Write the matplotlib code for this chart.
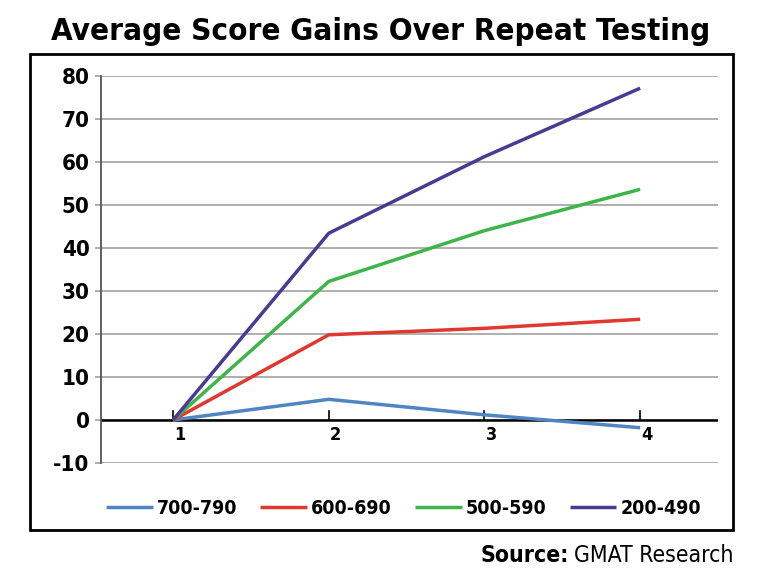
import matplotlib
matplotlib.use('Agg')
import matplotlib.pyplot as plt
from matplotlib.patches import Rectangle

# data
tests = [1, 2, 3, 4]
score_700_790 = [0, 4.8, 1.2, -1.8]
score_600_690 = [0, 19.8, 21.3, 23.4]
score_500_590 = [0, 32.2, 44.0, 53.6]
score_200_490 = [0, 43.4, 61.2, 77.1]
labels = ['700-790', '600-690', '500-590', '200-490']
colors = ['#5085c4', '#e0382e', '#3db54b', '#4a3a92']

plt.rcParams['font.family'] = ['DejaVu Sans']
plt.rcParams['axes.unicode_minus'] = False

fig = plt.figure(figsize=(7.61, 5.71), dpi=100)
ax = fig.add_axes([0.1323, 0.1891, 0.8112, 0.6783])

series = [score_700_790, score_600_690, score_500_590, score_200_490]
for vals, lab, col in zip(series, labels, colors):
    ax.plot(tests, vals, color=col, lw=2.5, label=lab, solid_capstyle='butt', zorder=3)

ax.set_xlim(0.535, 4.5)
ax.set_ylim(-10, 80)
ax.set_yticks(range(-10, 81, 10))
ax.yaxis.grid(True, color='#a8a8a8', lw=1.3)
ax.set_axisbelow(True)
ax.axhline(0, color='black', lw=1.8, zorder=2)

for s in ['top', 'right', 'bottom']:
    ax.spines[s].set_visible(False)
ax.spines['left'].set_color('#555555')
ax.spines['left'].set_linewidth(1.3)

ax.tick_params(axis='y', length=4, width=1.3, color='#a8a8a8', labelsize=16, pad=4)
ax.set_xticks([])
for t in tests:
    ax.plot([t, t], [0, 2], color='black', lw=1.2, zorder=2)
    ax.text(t + 0.045, -3.4, str(t), ha='center', va='center', fontsize=13,
            fontweight='bold', fontstretch='condensed')
for lbl in ax.get_yticklabels():
    lbl.set_fontweight('bold')
    lbl.set_fontstretch('condensed')

fig.text(0.5, 0.944, 'Average Score Gains Over Repeat Testing', ha='center', va='center',
         fontsize=22.5, fontweight='bold', fontstretch='condensed')

fig.patches.append(Rectangle((30 / 761, 1 - 530 / 571), 703 / 761, 476 / 571,
                             transform=fig.transFigure, fill=False, ec='black', lw=2))

leg = fig.legend(loc='center', bbox_to_anchor=(0.53, 1 - 508 / 571), ncol=4, frameon=False,
                 handlelength=2.4, handletextpad=0.2, columnspacing=1.2,
                 prop={'weight': 'bold', 'size': 14, 'stretch': 'condensed'})

src = fig.text(733 / 761, 1 - 556 / 571, 'GMAT Research', ha='right', va='center',
               fontsize=16.5, fontstretch='condensed')
fig.canvas.draw()
bb = src.get_window_extent()
fig.text((bb.x0 - 5) / 761, 1 - 556 / 571, 'Source:', ha='right', va='center',
         fontsize=16.5, fontweight='bold', fontstretch='condensed')

fig.savefig('out.png', dpi=100)
